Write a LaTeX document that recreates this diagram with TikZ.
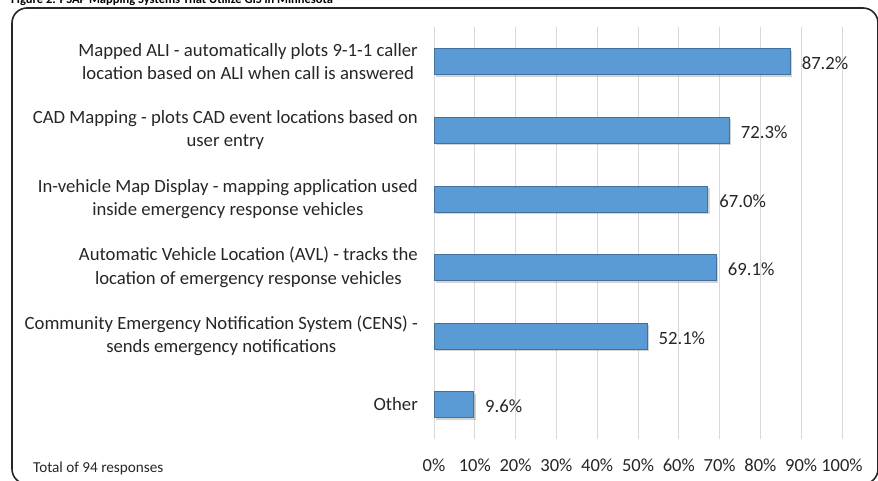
\documentclass[tikz,border=0pt]{standalone}
\usepackage{fontspec}
\setmainfont{Carlito}
\usepackage{xcolor}
\usepackage{tikz}
\usetikzlibrary{positioning,calc,shadows}

\definecolor{barblue}{HTML}{5B9BD5}
\definecolor{barline}{HTML}{41719C}
\definecolor{gridgray}{HTML}{D9D9D9}
\definecolor{inkgray}{HTML}{262626}

\tikzset{
  catlabel/.style={anchor=east,align=center,inner sep=0pt,text=inkgray,
    font=\fontsize{18.7}{23.5}\selectfont},
  valuelabel/.style={anchor=west,inner sep=0pt,text=inkgray,
    font=\fontsize{18.7}{23.5}\selectfont},
  ticklabel/.style={anchor=base,inner sep=0pt,text=inkgray,
    font=\fontsize{18.5}{22}\selectfont},
  hbar/.style={draw=barline,fill=barblue,line width=0.8pt,anchor=west,
    inner sep=0pt,minimum height=26pt,
    drop shadow={shadow xshift=2pt,shadow yshift=-2pt,opacity=0.35}},
}

\begin{document}
\begin{tikzpicture}[x=1pt,y=-1pt]
  \useasboundingbox (0,0) rectangle (878,480);
  \clip (0,0) rectangle (878,480);

  % caption, cut off by the top of the page
  \node[anchor=base west,inner sep=0pt,font=\bfseries\fontsize{12.5}{15}\selectfont]
    (caption) at (11,3) {Figure 2: PSAP Mapping Systems That Utilize GIS in Minnesota};

  % chart frame
  \draw[line width=1.6pt,black!85,rounded corners=15pt] (12,8) rectangle (878,484);

  % vertical grid and axis labels
  \foreach \p in {0,10,...,100}{
    \draw[gridgray,line width=1pt] (434+4.08*\p,27) -- (434+4.08*\p,439);
    \node[ticklabel] (tick\p) at (434+4.08*\p,471) {\p\%};
  }

  % bars
  \foreach \v/\yc/\name/\txt in {
      87.2/61.5/mapped/{Mapped ALI - automatically plots 9-1-1 caller\\location based on ALI when call is answered},
      72.3/130/cad/{CAD Mapping - plots CAD event locations based on\\user entry},
      67.0/199/invehicle/{In-vehicle Map Display - mapping application used\\inside emergency response vehicles},
      69.1/267.5/avl/{Automatic Vehicle Location (AVL) - tracks the\\location of emergency response vehicles},
      52.1/336/cens/{Community Emergency Notification System (CENS) -\\sends emergency notifications},
      9.6/404.5/other/{Other}}{
    \node[hbar,minimum width=4.08*\v] (bar\name) at (434,\yc) {};
    \node[valuelabel] (val\name) at ($(bar\name.east)+(11,2)$) {\v\%};
    \node[catlabel] (lab\name) at (418,\yc) {\txt};
  }

  \node[anchor=base west,inner sep=0pt,text=inkgray,font=\fontsize{15.2}{18}\selectfont]
    (total) at (33,472) {Total of 94 responses};
\end{tikzpicture}
\end{document}
